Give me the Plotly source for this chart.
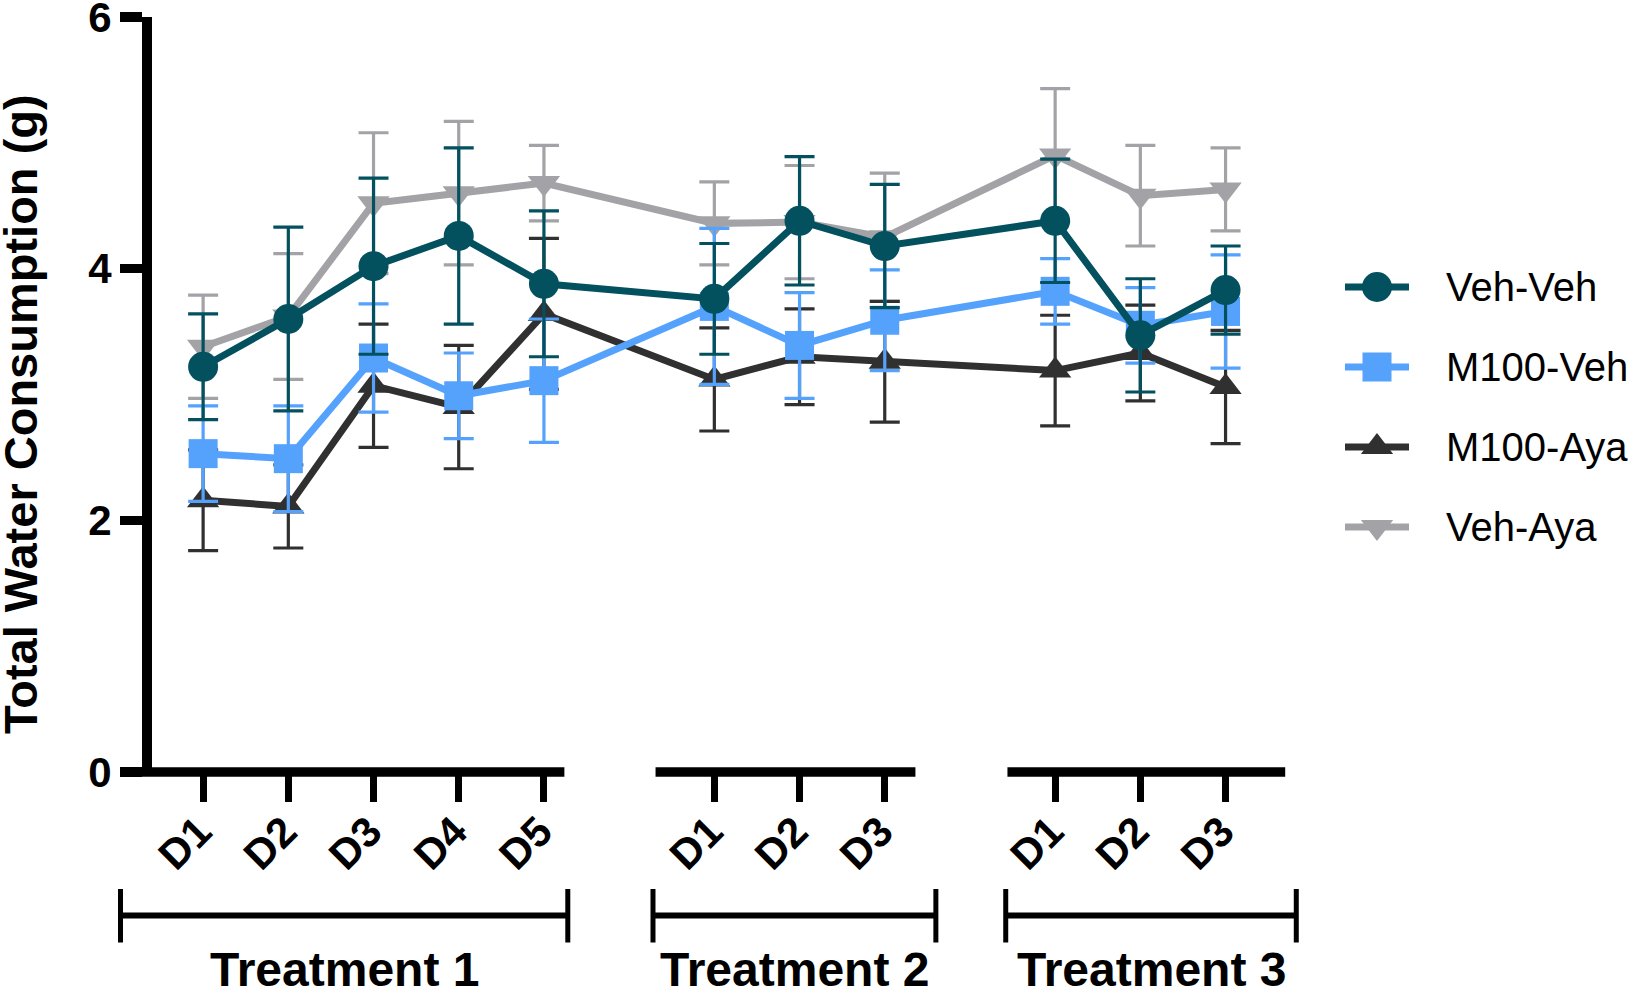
import plotly.graph_objects as go

# ---------------- data ----------------
treatments = ["Treatment 1", "Treatment 2", "Treatment 3"]
days_per_treatment = [5, 3, 3]
day_labels = ["D1", "D2", "D3", "D4", "D5", "D1", "D2", "D3", "D1", "D2", "D3"]

series_names = ["Veh-Veh", "M100-Veh", "M100-Aya", "Veh-Aya"]

veh_veh_mean = [3.22, 3.60, 4.02, 4.26, 3.88, 3.76, 4.38, 4.18, 4.38, 3.47, 3.83]
veh_veh_sem = [0.42, 0.73, 0.70, 0.70, 0.58, 0.44, 0.51, 0.49, 0.49, 0.45, 0.35]

m100_veh_mean = [2.53, 2.49, 3.29, 2.99, 3.11, 3.70, 3.39, 3.59, 3.82, 3.55, 3.66]
m100_veh_sem = [0.38, 0.42, 0.43, 0.34, 0.49, 0.62, 0.42, 0.40, 0.26, 0.30, 0.45]

m100_aya_mean = [2.16, 2.11, 3.07, 2.90, 3.64, 3.12, 3.30, 3.26, 3.19, 3.33, 3.06]
m100_aya_sem = [0.40, 0.33, 0.49, 0.49, 0.60, 0.41, 0.38, 0.48, 0.44, 0.38, 0.45]

veh_aya_mean = [3.38, 3.62, 4.52, 4.60, 4.68, 4.36, 4.37, 4.25, 4.90, 4.58, 4.63]
veh_aya_sem = [0.41, 0.50, 0.56, 0.57, 0.30, 0.33, 0.45, 0.51, 0.53, 0.40, 0.33]

y_ticks = [0, 2, 4, 6]

# ---------------- styles / layout ----------------
FONT = "Arial, 'Liberation Sans', Helvetica, sans-serif"
W, H = 1635, 989
PLOT_L, PLOT_R, PLOT_T, PLOT_B = 152, 1285.2, 17, 772   # pixel edges of main plot
PLOT_H = PLOT_B - PLOT_T
XMIN, XMAX = -0.6, 12.7

styles = {
    "Veh-Veh": dict(color="#03505F", symbol="circle", size=30),
    "M100-Veh": dict(color="#55A2FD", symbol="square", size=29),
    "M100-Aya": dict(color="#303030", symbol="triangle-up", size=28),
    "Veh-Aya": dict(color="#A3A3A7", symbol="triangle-down", size=28),
}
means = {"Veh-Veh": veh_veh_mean, "M100-Veh": m100_veh_mean,
         "M100-Aya": m100_aya_mean, "Veh-Aya": veh_aya_mean}
sems = {"Veh-Veh": veh_veh_sem, "M100-Veh": m100_veh_sem,
        "M100-Aya": m100_aya_sem, "Veh-Aya": veh_aya_sem}

# x positions: one empty slot between treatment blocks
x_pos = []
start = 0
for n in days_per_treatment:
    x_pos += list(range(start, start + n))
    start += n + 1


def xd(v):
    return (v - XMIN) / (XMAX - XMIN)


def yd_below(px):
    return -px / PLOT_H


fig = go.Figure()

# drawing order: Veh-Aya bottom ... Veh-Veh on top
for name in ["Veh-Aya", "M100-Aya", "M100-Veh", "Veh-Veh"]:
    st = styles[name]
    fig.add_trace(go.Scatter(
        x=x_pos, y=means[name], name=name, mode="lines+markers",
        line=dict(color=st["color"], width=7),
        marker=dict(color=st["color"], symbol=st["symbol"], size=st["size"],
                    opacity=1),
        error_y=dict(type="data", array=sems[name], visible=True,
                     color=st["color"], thickness=3.2, width=15),
        showlegend=False, cliponaxis=False, hoverinfo="skip",
    ))

# custom legend on an auxiliary axis pair
for i, name in enumerate(series_names):
    st = styles[name]
    fig.add_trace(go.Scatter(
        x=[0, 1], y=[i, i], mode="lines",
        line=dict(color=st["color"], width=7),
        xaxis="x2", yaxis="y2", showlegend=False, hoverinfo="skip",
        cliponaxis=False,
    ))
    fig.add_trace(go.Scatter(
        x=[0.5], y=[i], mode="markers",
        marker=dict(color=st["color"], symbol=st["symbol"], size=st["size"],
                    opacity=1),
        xaxis="x2", yaxis="y2", showlegend=False, hoverinfo="skip",
        cliponaxis=False,
    ))
    fig.add_annotation(x=1, y=i, xref="x2", yref="y2", text=name,
                       xanchor="left", yanchor="middle", xshift=35,
                       showarrow=False,
                       font=dict(family=FONT, size=40, color="black"))

shapes = []
# broken x-axis line
segments = [(XMIN - 0.12, 4.24), (5.31, 8.36), (9.44, 12.70)]
for a, b in segments:
    shapes.append(dict(type="line", xref="x domain", yref="y domain",
                       x0=xd(a), x1=xd(b), y0=0, y1=0,
                       line=dict(color="black", width=9.5)))
# treatment brackets
brackets = [(-0.97, 4.28), (5.28, 8.60), (9.42, 12.83)]
for (a, b), label in zip(brackets, treatments):
    shapes.append(dict(type="line", xref="x domain", yref="y domain",
                       x0=xd(a), x1=xd(b), y0=yd_below(143.5), y1=yd_below(143.5),
                       line=dict(color="black", width=6)))
    for e in (a, b):
        shapes.append(dict(type="line", xref="x domain", yref="y domain",
                           x0=xd(e), x1=xd(e), y0=yd_below(117), y1=yd_below(170.5),
                           line=dict(color="black", width=5)))
    fig.add_annotation(x=xd((a + b) / 2), y=yd_below(169), xref="x domain",
                       yref="y domain", text="<b>" + label + "</b>",
                       xanchor="center", yanchor="top", showarrow=False,
                       font=dict(family=FONT, size=48, color="black"))

# y-axis title
fig.add_annotation(x=20 / W, y=1 - 414 / H, xref="paper", yref="paper",
                   text="<b>Total Water Consumption (g)</b>", textangle=-90,
                   xanchor="center", yanchor="middle", showarrow=False,
                   font=dict(family=FONT, size=47, color="black"))

fig.update_layout(
    width=W, height=H,
    margin=dict(l=0, r=0, t=0, b=0, pad=0, autoexpand=False),
    paper_bgcolor="white", plot_bgcolor="white",
    font=dict(family=FONT, color="black"),
    shapes=shapes,
    showlegend=False,
    hovermode=False,
    xaxis=dict(
        domain=[PLOT_L / W, PLOT_R / W],
        range=[XMIN, XMAX], tickmode="array", tickvals=x_pos,
        ticktext=["<b>" + t + "</b>" for t in day_labels],
        tickangle=-45, ticks="outside", ticklen=29, tickwidth=7,
        tickcolor="black", showline=False, showgrid=False, zeroline=False,
        tickfont=dict(family=FONT, size=42, color="black"),
        ticklabelstandoff=-12, ticklabelshift=-4, ticklabeloverflow="allow",
        fixedrange=True,
    ),
    yaxis=dict(
        domain=[1 - PLOT_B / H, 1 - PLOT_T / H],
        range=[0, 6], tickmode="array", tickvals=y_ticks,
        ticktext=["<b>%d</b>" % t for t in y_ticks],
        ticks="outside", ticklen=22, tickwidth=9.5, tickcolor="black",
        showline=True, linewidth=10, linecolor="black",
        showgrid=False, zeroline=False, ticklabeloverflow="allow",
        tickfont=dict(family=FONT, size=42, color="black"),
        fixedrange=True,
    ),
    xaxis2=dict(domain=[1345 / W, 1409 / W], range=[0, 1], anchor="y2",
                visible=False, fixedrange=True),
    yaxis2=dict(domain=[1 - 567 / H, 1 - 247 / H], range=[3.5, -0.5],
                anchor="x2", visible=False, fixedrange=True),
)

# remove the default 8px page margin so the figure fills the window exactly
fig.write_html("out.html",
               config={"displayModeBar": False, "staticPlot": True},
               post_script="document.body.style.margin='0';"
                           "document.body.style.overflow='hidden';")
